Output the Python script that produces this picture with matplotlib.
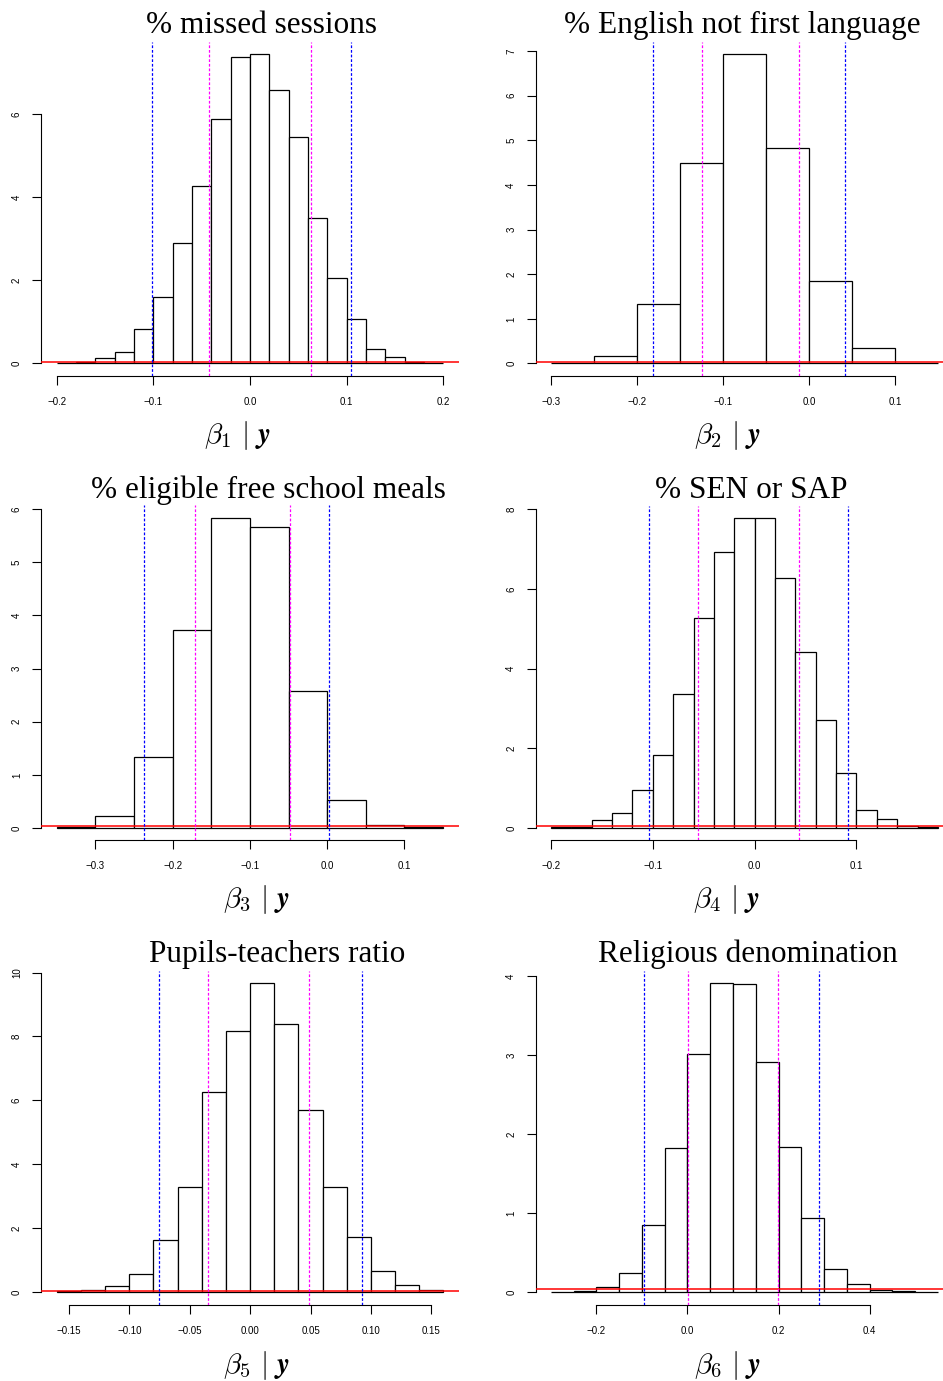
import numpy as np
import matplotlib
matplotlib.use("Agg")
import matplotlib.pyplot as plt

plt.rcParams['mathtext.fontset'] = 'cm'
plt.rcParams['font.family'] = ['Liberation Sans', 'DejaVu Sans']

# ---------------- data ----------------
titles = ["% missed sessions", "% English not first language",
          "% eligible free school meals", "% SEN or SAP",
          "Pupils-teachers ratio", "Religious denomination"]
xlabels = [r"$\beta_1\ |\ \mathbfit{y}$", r"$\beta_2\ |\ \mathbfit{y}$",
           r"$\beta_3\ |\ \mathbfit{y}$", r"$\beta_4\ |\ \mathbfit{y}$",
           r"$\beta_5\ |\ \mathbfit{y}$", r"$\beta_6\ |\ \mathbfit{y}$"]

breaks_1 = [-0.20, -0.18, -0.16, -0.14, -0.12, -0.10, -0.08, -0.06, -0.04, -0.02, 0.00,
            0.02, 0.04, 0.06, 0.08, 0.10, 0.12, 0.14, 0.16, 0.18, 0.20]
density_1 = [0.01, 0.03, 0.12, 0.28, 0.82, 1.60, 2.90, 4.28, 5.88, 7.38,
             7.45, 6.59, 5.44, 3.51, 2.05, 1.06, 0.34, 0.16, 0.03, 0.02]

breaks_2 = [-0.30, -0.25, -0.20, -0.15, -0.10, -0.05, 0.00, 0.05, 0.10, 0.15]
density_2 = [0.02, 0.16, 1.34, 4.48, 6.93, 4.82, 1.85, 0.35, 0.02]

breaks_3 = [-0.35, -0.30, -0.25, -0.20, -0.15, -0.10, -0.05, 0.00, 0.05, 0.10, 0.15]
density_3 = [0.02, 0.23, 1.33, 3.73, 5.83, 5.67, 2.57, 0.53, 0.06, 0.015]

breaks_4 = [-0.20, -0.18, -0.16, -0.14, -0.12, -0.10, -0.08, -0.06, -0.04, -0.02, 0.00,
            0.02, 0.04, 0.06, 0.08, 0.10, 0.12, 0.14, 0.16, 0.18]
density_4 = [0.02, 0.03, 0.21, 0.38, 0.94, 1.84, 3.36, 5.26, 6.92, 7.77,
             7.77, 6.27, 4.41, 2.72, 1.37, 0.46, 0.23, 0.06, 0.025]

breaks_5 = [-0.16, -0.14, -0.12, -0.10, -0.08, -0.06, -0.04, -0.02, 0.00,
            0.02, 0.04, 0.06, 0.08, 0.10, 0.12, 0.14, 0.16]
density_5 = [0.02, 0.05, 0.19, 0.55, 1.62, 3.28, 6.25, 8.16,
             9.69, 8.38, 5.69, 3.30, 1.73, 0.66, 0.23, 0.07]

breaks_6 = [-0.30, -0.25, -0.20, -0.15, -0.10, -0.05, 0.00, 0.05, 0.10, 0.15, 0.20,
            0.25, 0.30, 0.35, 0.40, 0.45, 0.50, 0.55]
density_6 = [0.005, 0.015, 0.07, 0.25, 0.85, 1.83, 3.01, 3.92, 3.90, 2.91, 1.84,
             0.94, 0.30, 0.105, 0.03, 0.013, 0.005]

# credible intervals: 95% (blue) and 80% (magenta)
ci95 = [(-0.101, 0.104), (-0.1816, 0.0415), (-0.2365, 0.0026),
        (-0.1039, 0.0915), (-0.0758, 0.0926), (-0.0945, 0.2886)]
ci80 = [(-0.042, 0.0628), (-0.1242, -0.0116), (-0.1717, -0.0479),
        (-0.0554, 0.0439), (-0.0346, 0.0490), (0.0015, 0.1978)]
prior_density = [0.04, 0.04, 0.04, 0.04, 0.04, 0.04]

xticks = [[-0.2, -0.1, 0.0, 0.1, 0.2],
          [-0.3, -0.2, -0.1, 0.0, 0.1],
          [-0.3, -0.2, -0.1, 0.0, 0.1],
          [-0.2, -0.1, 0.0, 0.1],
          [-0.15, -0.10, -0.05, 0.00, 0.05, 0.10, 0.15],
          [-0.2, 0.0, 0.2, 0.4]]
xticklabels = [["-0.2", "-0.1", "0.0", "0.1", "0.2"],
               ["-0.3", "-0.2", "-0.1", "0.0", "0.1"],
               ["-0.3", "-0.2", "-0.1", "0.0", "0.1"],
               ["-0.2", "-0.1", "0.0", "0.1"],
               ["-0.15", "-0.10", "-0.05", "0.00", "0.05", "0.10", "0.15"],
               ["-0.2", "0.0", "0.2", "0.4"]]
yticks = [[0, 2, 4, 6], [0, 1, 2, 3, 4, 5, 6, 7], [0, 1, 2, 3, 4, 5, 6],
          [0, 2, 4, 6, 8], [0, 2, 4, 6, 8, 10], [0, 1, 2, 3, 4]]

breaks = [breaks_1, breaks_2, breaks_3, breaks_4, breaks_5, breaks_6]
densities = [density_1, density_2, density_3, density_4, density_5, density_6]

# ---------------- layout (pixels) ----------------
W, H = 943, 1381
boxes = [(41.3, 459.3, 42, 376), (535.7, 943, 42, 376),
         (41.3, 459.3, 505, 840.3), (535.7, 943, 506, 840.3),
         (41.3, 459.3, 970.7, 1305), (535.7, 943, 970.7, 1305)]
xlims = [(-0.216, 0.2166), (-0.318, 0.156), (-0.370, 0.171),
         (-0.215, 0.185), (-0.1729, 0.1732), (-0.333, 0.561)]
ylims = [(-0.305, 7.74), (-0.28, 7.2), (-0.232, 6.08),
         (-0.31, 8.08), (-0.41, 10.06), (-0.16, 4.07)]
title_pos = [(261.5, 33.3), (742, 33.3), (268.5, 497.7),
             (750.8, 497.7), (276.7, 962.3), (747.8, 962.3)]
label_pos = [(238, 436), (727.5, 436), (257, 900),
             (727, 900), (257, 1365.7), (727.5, 1365.7)]

fig = plt.figure(figsize=(W / 100, H / 100), dpi=100)
fig.patch.set_facecolor('white')

dash = (0, (2.2, 1.5))
for i in range(6):
    l, r, t, b = boxes[i]
    ax = fig.add_axes([l / W, 1 - b / H, (r - l) / W, (b - t) / H])
    ax.patch.set_alpha(0)
    e = np.array(breaks[i])
    d = np.array(densities[i])
    ax.bar(e[:-1], d, width=np.diff(e), align='edge', facecolor='white',
           edgecolor='black', linewidth=0.9, zorder=2)
    ax.axhline(prior_density[i], color='#ff0000', linewidth=1.1, zorder=3)
    for v in ci95[i]:
        ax.axvline(v, color='#0000ff', linewidth=0.9, linestyle=dash, zorder=4)
    for v in ci80[i]:
        ax.axvline(v, color='#ff00ff', linewidth=0.9, linestyle=dash, zorder=4)
    ax.set_xlim(*xlims[i])
    ax.set_ylim(*ylims[i])
    for s in ['top', 'right']:
        ax.spines[s].set_visible(False)
    ax.spines['left'].set_bounds(yticks[i][0], yticks[i][-1])
    ax.spines['bottom'].set_bounds(xticks[i][0], xticks[i][-1])
    for s in ['left', 'bottom']:
        ax.spines[s].set_linewidth(0.8)
        ax.spines[s].set_color('black')
    ax.set_xticks(xticks[i])
    ax.set_xticklabels([s.replace('-', '\u2212') for s in xticklabels[i]])
    ax.set_yticks(yticks[i])
    ax.set_yticklabels([str(v) for v in yticks[i]], rotation=90, va='center')
    ax.tick_params(axis='both', direction='out', length=6.5, width=0.8,
                   labelsize=7, colors='black')
    ax.tick_params(axis='x', pad=8.5)
    ax.tick_params(axis='y', pad=7.5)
    tx, ty = title_pos[i]
    fig.text(tx / W, 1 - ty / H, titles[i], ha='center', va='baseline',
             fontsize=22.5, family=['Liberation Serif', 'DejaVu Serif'])
    lx, ly = label_pos[i]
    fig.text(lx / W, 1 - ly / H, xlabels[i], ha='center', va='center',
             fontsize=21)

fig.savefig('out.png', dpi=100)
